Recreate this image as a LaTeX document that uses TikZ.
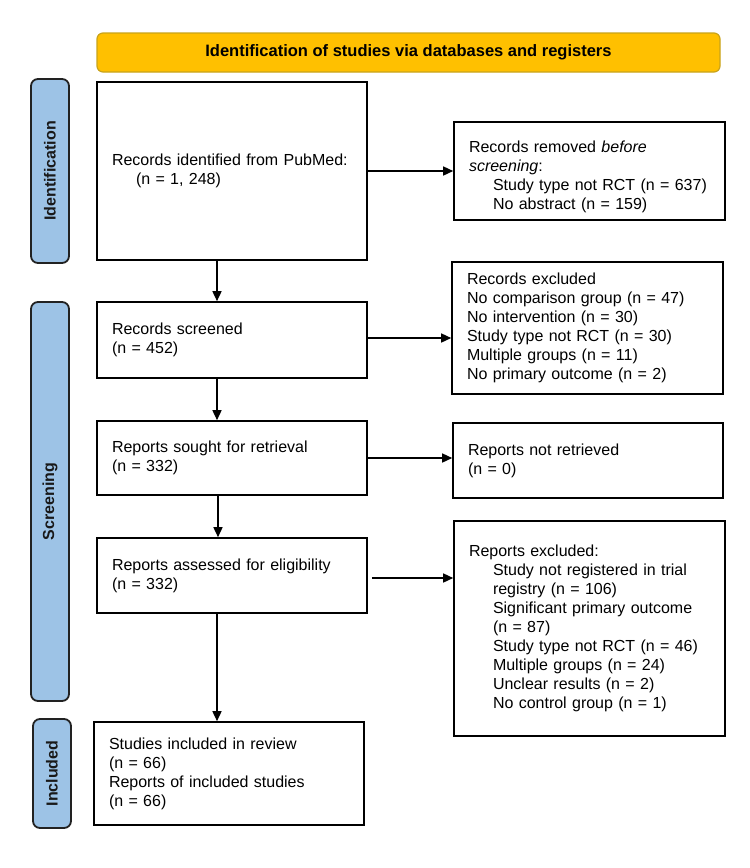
\documentclass[tikz,border=0pt]{standalone}
\usepackage{fontspec}
\setmainfont{Liberation Sans}
\usetikzlibrary{arrows.meta}
\definecolor{hdrfill}{HTML}{FFC000}
\definecolor{hdrline}{HTML}{C9A31A}
\definecolor{sidefill}{HTML}{9DC3E6}
\definecolor{sideline}{HTML}{222222}
\newcommand{\bodyfont}{\fontsize{16}{19}\selectfont}
\newcommand{\ind}{\hspace*{24pt}}
\tikzset{
  flowbox/.style={draw=black, line width=1.6pt, inner xsep=15pt, inner ysep=0pt,
    align=left, font=\bodyfont, text width=#1-30pt, minimum width=#1},
  sidebar/.style={draw=sideline, fill=sidefill, line width=1.8pt, rounded corners=7pt,
    minimum width=38pt, inner sep=0pt},
  sidelabel/.style={rotate=90, font=\fontsize{16}{19}\selectfont\bfseries, text=black!90},
  arr/.style={line width=1.5pt, -{Triangle[length=10pt,width=9pt]}},
}
\begin{document}
\begin{tikzpicture}[x=1pt,y=-1pt]
\useasboundingbox (0,0) rectangle (750,868);
\fill[white] (0,0) rectangle (750,868);

% header
\node[draw=hdrline, fill=hdrfill, line width=1.2pt, rounded corners=6pt,
  minimum width=623pt, minimum height=39pt, inner sep=0pt,
  font=\fontsize{16.5}{19}\selectfont\bfseries] (hdr) at (408.5,52.5)
  {Identification of studies via databases and registers};

% side bars
\node[sidebar, minimum height=184pt] (idbar) at (50,171) {};
\node[sidelabel] (idlab) at (idbar.center) {Identification};
\node[sidebar, minimum height=399pt] (scbar) at (50,501.5) {};
\node[sidelabel] (sclab) at (scbar.center) {Screening};
\node[sidebar, minimum height=109pt] (inbar) at (52,773.5) {};
\node[sidelabel] (inlab) at (inbar.center) {Included};

% main boxes
\node[flowbox=270pt, minimum height=178pt] (b1) at (232,171)
  {Records identified from PubMed:\\\ind(n = 1, 248)};
\node[flowbox=271pt, minimum height=98pt] (rem) at (589.5,171)
  {\rule{0pt}{22.5pt}Records removed \textit{before}\\\textit{screening}:\\\ind Study type not RCT (n = 637)\\\ind No abstract (n = 159)};
\node[flowbox=270pt, minimum height=76pt] (scr) at (232,340)
  {Records screened\\(n = 452)};
\node[flowbox=271pt, minimum height=132pt] (exc) at (587.5,328)
  {Records excluded\\No comparison group (n = 47)\\No intervention (n = 30)\\Study type not RCT (n = 30)\\Multiple groups (n = 11)\\No primary outcome (n = 2)};
\node[flowbox=270pt, minimum height=74pt] (sou) at (232,458)
  {Reports sought for retrieval\\(n = 332)};
\node[flowbox=270pt, minimum height=75pt] (nret) at (588,460.5)
  {Reports not retrieved\\(n = 0)};
\node[flowbox=270pt, minimum height=75pt] (ass) at (232,575.5)
  {Reports assessed for eligibility\\(n = 332)};
\node[flowbox=271pt, minimum height=215pt] (rex) at (589.5,628.5)
  {Reports excluded:\\\ind Study not registered in trial\\\ind registry (n = 106)\\\ind Significant primary outcome\\\ind (n = 87)\\\ind Study type not RCT (n = 46)\\\ind Multiple groups (n = 24)\\\ind Unclear results (n = 2)\\\ind No control group (n = 1)};
\node[flowbox=270pt, minimum height=103pt] (inc) at (229,773.5)
  {Studies included in review\\(n = 66)\\Reports of included studies\\(n = 66)};

% horizontal arrows
\draw[arr] (b1.east) -- (b1.east -| rem.west);
\draw[arr] ([yshift=2pt]scr.east) -- ([yshift=2pt]scr.east -| exc.west);
\draw[arr] (sou.east) -- (sou.east -| nret.west);
\draw[arr, shorten <=4pt] ([yshift=-2.5pt]ass.east) -- ([yshift=-2.5pt]ass.east -| rex.west);

% vertical arrows
\draw[arr] ([xshift=-15pt]b1.south) -- ([xshift=-15pt]b1.south |- scr.north);
\draw[arr] ([xshift=-15pt]scr.south) -- ([xshift=-15pt]scr.south |- sou.north);
\draw[arr] ([xshift=-14pt]sou.south) -- ([xshift=-14pt]sou.south |- ass.north);
\draw[arr] ([xshift=-15pt]ass.south) -- ([xshift=-15pt]ass.south |- inc.north);
\end{tikzpicture}
\end{document}
